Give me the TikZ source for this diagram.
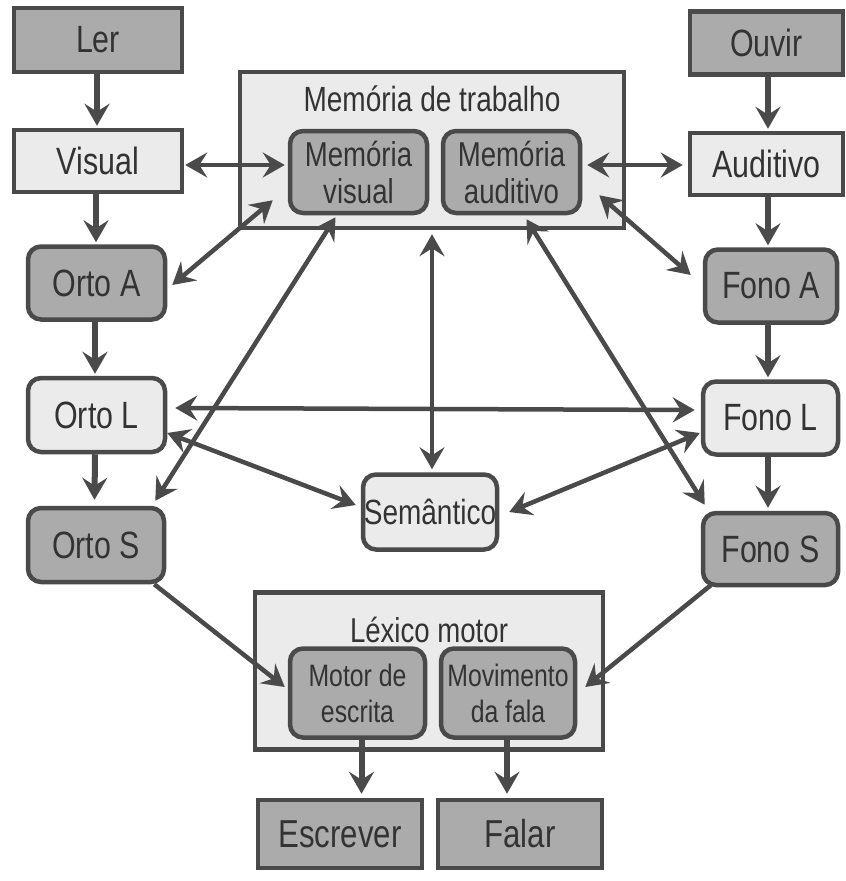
\documentclass[tikz,border=0pt]{standalone}
\usepackage{fontspec}
\setmainfont[FakeStretch=0.8]{Liberation Sans}
\usetikzlibrary{arrows.meta,calc}
\definecolor{edge}{HTML}{4A4A4A}
\definecolor{darkfill}{HTML}{ABABAB}
\definecolor{lightfill}{HTML}{EBEBEB}
\definecolor{ink}{HTML}{333333}
\begin{document}
\begin{tikzpicture}[x=1pt,y=-1pt,
  box/.style={draw=edge, line width=4.5pt, inner sep=0pt, align=center, text=ink,
    font=\fontsize{38}{40}\selectfont},
  dk/.style={box, fill=darkfill},
  lt/.style={box, fill=lightfill},
  rnd/.style={rounded corners=13pt},
  sub/.style={font=\fontsize{34.5}{37}\selectfont},
  tip/.tip={Stealth[length=22pt,width=25pt,inset=8pt]},
  arr/.style={draw=edge, line width=6pt, -tip},
  darr/.style={draw=edge, line width=4.5pt, tip-tip},
  sarr/.style={draw=edge, line width=4.5pt, -tip},
  ttl/.style={text=ink, font=\fontsize{35}{38}\selectfont, inner sep=0pt}
]
\useasboundingbox (0,0) rectangle (846,881);
\fill[white] (0,0) rectangle (846,881);

% left column
\node[dk, minimum width=168pt, minimum height=64pt] (ler) at (98,40) {Ler};
\node[lt, minimum width=168pt, minimum height=62pt] (vis) at (98,161) {Visual};
\node[dk, rnd, minimum width=137pt, minimum height=73pt] (oa) at (96.5,283) {Orto A};
\node[lt, rnd, minimum width=137pt, minimum height=74pt] (ol) at (96.5,415) {Orto L};
\node[dk, rnd, minimum width=136pt, minimum height=74pt] (os) at (96,545) {Orto S};

% right column
\node[dk, minimum width=153pt, minimum height=63pt] (ouv) at (766.5,43) {Ouvir};
\node[lt, minimum width=153pt, minimum height=62pt] (aud) at (766.5,164) {Auditivo};
\node[dk, rnd, minimum width=132pt, minimum height=73pt] (fa) at (771,286) {Fono A};
\node[lt, rnd, minimum width=135pt, minimum height=73pt] (fl) at (770.5,418) {Fono L};
\node[dk, rnd, minimum width=135pt, minimum height=72pt] (fs) at (770.5,549) {Fono S};

% working memory
\node[lt, minimum width=384pt, minimum height=156pt] (mt) at (432,150) {};
\node[ttl] (mtt) at (432,99) {Memória de trabalho};
\node[dk, rnd, sub, minimum width=137pt, minimum height=82pt] (mv) at (358.5,172) {Memória\\visual};
\node[dk, rnd, sub, minimum width=137pt, minimum height=82pt] (ma) at (511.5,172) {Memória\\auditivo};

% semantic
\node[lt, rnd, font=\fontsize{35}{38}\selectfont, minimum width=134pt, minimum height=75pt] (sem) at (430,512) {Semântico};

% motor lexicon
\node[lt, minimum width=348pt, minimum height=157pt] (lm) at (429,671) {};
\node[ttl, font=\fontsize{34.5}{37}\selectfont] (lmt) at (429,630) {Léxico motor};
\node[dk, rnd, font=\fontsize{31}{36}\selectfont, minimum width=135pt, minimum height=89pt] (me) at (357.5,693) {Motor de\\escrita};
\node[dk, rnd, font=\fontsize{31}{36}\selectfont, minimum width=134pt, minimum height=89pt] (mf) at (508,693) {Movimento\\da fala};

% outputs
\node[dk, font=\fontsize{39}{40}\selectfont, minimum width=164pt, minimum height=68pt] (esc) at (340,834) {Escrever};
\node[dk, font=\fontsize{39}{40}\selectfont, minimum width=164pt, minimum height=68pt] (fal) at (520,834) {Falar};

% vertical flows
\draw[arr] ([xshift=-1pt]ler.south) -- ([xshift=-1pt,yshift=2pt]vis.north);
\draw[arr] ([xshift=-2pt]vis.south) -- ([xshift=-0.5pt,yshift=2pt]oa.north);
\draw[arr] ([xshift=-1.5pt]oa.south) -- ([xshift=-1.5pt,yshift=2pt]ol.north);
\draw[arr] ([xshift=-1.5pt]ol.south) -- ([xshift=-1.5pt,yshift=6pt]os.north);
\draw[arr] ([xshift=1.5pt]ouv.south) -- ([xshift=1.5pt,yshift=2pt]aud.north);
\draw[arr] ([xshift=1.5pt]aud.south) -- ([xshift=-3pt,yshift=2pt]fa.north);
\draw[arr] ([xshift=-3pt]fa.south) -- ([xshift=-2.5pt,yshift=2pt]fl.north);
\draw[arr] ([xshift=-2.5pt]fl.south) -- ([xshift=-2.5pt,yshift=3pt]fs.north);
\draw[arr] ([xshift=4pt]me.south) -- ([xshift=21.5pt,yshift=4pt]esc.north);
\draw[arr] ([xshift=-1pt]mf.south) -- ([xshift=-13pt,yshift=4pt]fal.north);

% horizontal double arrows
\draw[darr] ([xshift=1pt,yshift=-4pt]vis.east) -- ([xshift=-3pt,yshift=7pt]mv.west);
\draw[darr] ([xshift=5pt,yshift=7pt]ma.east) -- ([xshift=-5pt,yshift=-1pt]aud.west);
\draw[darr] ([xshift=8pt,yshift=7pt]ol.east) -- ([xshift=-6pt,yshift=8pt]fl.west);

% diagonal double arrows
\draw[darr] ([xshift=5pt,yshift=-2pt]oa.east) -- ([xshift=-15pt,yshift=15pt]mv.south west);
\draw[darr] ([xshift=-11pt,yshift=5pt]os.north east) -- ([xshift=-23pt,yshift=-2pt]mv.south);
\draw[darr] ([yshift=-18pt]ol.east) -- ([xshift=-5pt,yshift=7pt]sem.west);
\draw[darr] ([yshift=-4pt]mt.south) -- ([xshift=2pt,yshift=3pt]sem.north);
\draw[darr] ([xshift=10pt]sem.east) -- ([xshift=-1pt,yshift=-15pt]fl.west);
\draw[darr] ([xshift=15pt,yshift=-4pt]ma.south) -- ([xshift=4pt,yshift=6pt]fs.north west);
\draw[darr] ([xshift=17pt,yshift=20pt]ma.south east) -- ([xshift=-12pt,yshift=11pt]fa.west);

% into motor lexicon
\draw[sarr] ([xshift=-12pt]os.south east) -- ([xshift=-3pt,yshift=6pt]me.west);
\draw[sarr] ([xshift=10pt,yshift=2pt]fs.south west) -- ([xshift=8pt,yshift=6pt]mf.east);
\end{tikzpicture}
\end{document}
